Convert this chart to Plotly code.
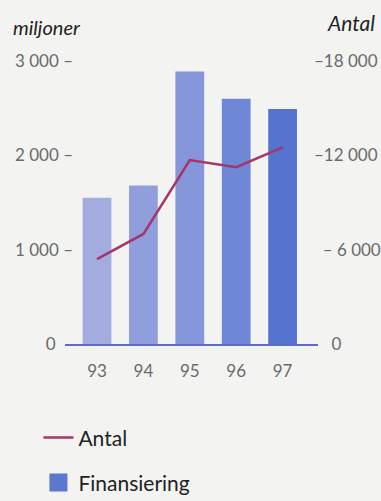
import plotly.graph_objects as go

# ---- data ----
years = ["93", "94", "95", "96", "97"]
finansiering = [1550, 1680, 2890, 2600, 2490]          # miljoner (left axis)
antal = [5400, 7000, 11700, 11250, 12500]             # Antal (right axis)
bar_colors = ["#a4acdf", "#909fdc", "#8596db", "#6f87d7", "#5573cf"]
NB = "\u00a0"
left_tickvals = [0, 1000, 2000, 3000]
left_ticktext = ["0" + NB * 4, "1 000 –", "2 000 –", "3 000 –"]
right_tickvals = [0, 6000, 12000, 18000]
right_ticktext = [NB * 4 + "0", NB * 2 + "– 6 000", "–12 000", "–18 000"]

BG = "#f3f3f1"
FONT = "Lato"
TICKC = "#6a6a6a"

fig = go.Figure()

fig.add_trace(go.Bar(
    x=years, y=finansiering, name="Finansiering",
    marker=dict(color=bar_colors, line=dict(width=0)),
    width=0.62, showlegend=False, legendgroup="fin",
))
fig.add_trace(go.Scatter(
    x=years, y=antal, name="Antal", yaxis="y2",
    mode="lines",
    line=dict(color="#a3366a", width=2.5),
    legend="legend",
))
# legend entry for bars (single colour swatch as in the reference)
fig.add_trace(go.Scatter(
    x=[None], y=[None], name="Finansiering", mode="markers",
    marker=dict(symbol="square", size=16, color="#5b78d0",
                line=dict(color="#5b78d0", width=2)),
    legend="legend2", legendgroup="fin",
))

fig.update_layout(
    width=381, height=501,
    margin=dict(l=65, r=63, t=61, b=157, autoexpand=False),
    paper_bgcolor=BG, plot_bgcolor=BG,
    font=dict(family=FONT, color=TICKC, size=17),
    bargap=0.38,
    xaxis=dict(
        type="category", range=[-0.69, 4.763],
        showgrid=False, zeroline=False, automargin=False,
        showline=True, linecolor="#5a6fc2", linewidth=2,
        ticks="", tickfont=dict(size=17, color=TICKC),
        ticklabelstandoff=11,
    ),
    yaxis=dict(
        range=[0, 3000], tickvals=left_tickvals, ticktext=left_ticktext,
        showgrid=False, zeroline=False, showline=False, ticks="", automargin=False,
        tickfont=dict(size=17, color=TICKC),
        ticklabelstandoff=-9,
    ),
    yaxis2=dict(
        range=[0, 18000], overlaying="y", side="right",
        tickvals=right_tickvals, ticktext=right_ticktext,
        showgrid=False, zeroline=False, showline=False, ticks="", automargin=False,
        tickfont=dict(size=17, color=TICKC),
        ticklabelstandoff=-5,
    ),
    legend=dict(
        x=-0.105, y=-0.332, xanchor="left", yanchor="middle",
        bgcolor="rgba(0,0,0,0)", font=dict(size=21, color="#222222"),
    ),
    legend2=dict(
        x=-0.105, y=-0.491, xanchor="left", yanchor="middle",
        bgcolor="rgba(0,0,0,0)", font=dict(size=21, color="#222222"),
    ),
    annotations=[
        dict(text="<i>miljoner</i>", xref="paper", yref="paper",
             x=(11 - 65) / 253, y=(344 - 27) / 283, xanchor="left", yanchor="middle",
             showarrow=False, font=dict(size=20, color="#222222", family=FONT)),
        dict(text="<i>Antal</i>", xref="paper", yref="paper",
             x=(377 - 65) / 253, y=(344 - 23) / 283, xanchor="right", yanchor="middle",
             showarrow=False, font=dict(size=21, color="#222222", family=FONT)),
    ],
)

fig.write_html("out.html")
